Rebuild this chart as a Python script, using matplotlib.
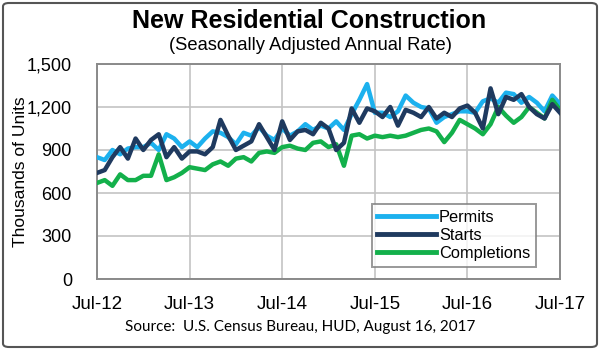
import numpy as np
import matplotlib
matplotlib.use('Agg')
import matplotlib.pyplot as plt
from matplotlib.patches import FancyBboxPatch

# ── Data (thousands of units, SAAR), monthly Jul-12 .. Jul-17 ──
permits = [850, 830, 900, 870, 910, 920,
           920, 950, 900, 1010, 980, 920, 960, 920, 980, 1030, 1020, 990,
           940, 1020, 1000, 1060, 1000, 970, 1050, 1000, 1030, 1080, 1040, 1070,
           1050, 1100, 1040, 1150, 1250, 1360, 1160, 1160, 1130, 1170, 1280, 1230,
           1200, 1190, 1090, 1130, 1150, 1170, 1170, 1160, 1240, 1260, 1230, 1300,
           1290, 1230, 1270, 1230, 1170, 1280, 1220]
starts = [740, 760, 850, 920, 840, 980,
          900, 970, 1010, 850, 920, 840, 890, 890, 870, 920, 1110, 1000,
          900, 930, 960, 1080, 990, 900, 1100, 970, 1030, 1040, 1010, 1090,
          1050, 900, 950, 1190, 1090, 1190, 1170, 1130, 1200, 1070, 1180, 1160,
          1130, 1200, 1120, 1160, 1130, 1190, 1210, 1160, 1050, 1330, 1150, 1270,
          1250, 1290, 1200, 1150, 1120, 1220, 1160]
completions = [670, 690, 650, 730, 690, 690,
               720, 720, 870, 690, 710, 740, 780, 770, 760, 800, 820, 790,
               840, 850, 820, 880, 890, 880, 920, 930, 910, 900, 950, 960,
               920, 940, 790, 1000, 1010, 980, 1000, 990, 1000, 990, 1000, 1020,
               1040, 1050, 1030, 955, 1020, 1110, 1080, 1050, 1010, 1080, 1200, 1140,
               1090, 1130, 1200, 1160, 1120, 1250, 1180]
year_labels = ['Jul-12', 'Jul-13', 'Jul-14', 'Jul-15', 'Jul-16', 'Jul-17']
y_ticks = [0, 300, 600, 900, 1200, 1500]

COLORS = {'Permits': '#1cb1ee', 'Starts': '#1f3a5f', 'Completions': '#13b04b'}

plt.rcParams['font.family'] = ['Liberation Sans', 'DejaVu Sans']

fig = plt.figure(figsize=(6, 3.5), dpi=100)
ax = fig.add_axes([97/600, 1 - 279/350, 463/600, 215/350])

x = np.arange(len(permits))
ax.plot(x, permits, color=COLORS['Permits'], lw=3.2, label='Permits', zorder=3)
ax.plot(x, starts, color=COLORS['Starts'], lw=3.2, label='Starts', zorder=4)
ax.plot(x, completions, color=COLORS['Completions'], lw=3.2, label='Completions', zorder=3)

ax.set_xlim(0, len(permits) - 1)
ax.set_ylim(0, 1500)
ax.set_xticks(np.arange(0, len(permits), 12))
ax.set_xticklabels(year_labels, fontsize=13.5)
ax.set_yticks(y_ticks)
ax.set_yticklabels([f'{v:,}' for v in y_ticks], fontsize=13)
ax.tick_params(axis='both', length=0)
ax.tick_params(axis='x', pad=12)
ax.tick_params(axis='y', pad=18)
ax.grid(True, color='#c4c4c4', lw=1.2, zorder=0)
for s in ax.spines.values():
    s.set_color('#8a8a8a')
    s.set_linewidth(1.4)
ax.set_ylabel('Thousands of Units', fontsize=12.5)
ax.yaxis.set_label_coords(-0.15, 0.5)

leg = ax.legend(loc='lower right', bbox_to_anchor=(0.948, 0.056), fontsize=11.8,
                frameon=True, fancybox=False, handlelength=3.6, handletextpad=0.15,
                labelspacing=0.2, borderpad=0.35, borderaxespad=0)
leg.get_frame().set_edgecolor('#7f7f7f')
leg.get_frame().set_linewidth(1.4)
for line in leg.get_lines():
    line.set_linewidth(3.5)

fig.text(0.515, 1 - 21/350, 'New Residential Construction', ha='center', va='center',
         fontsize=18, fontweight='bold')
fig.text(0.518, 1 - 46/350, '(Seasonally Adjusted Annual Rate)', ha='center', va='center',
         fontsize=13.2)
fig.text(0.5, 1 - 327/350, 'Source:  U.S. Census Bureau, HUD, August 16, 2017',
         ha='center', va='center', fontsize=11, family=['Lato', 'DejaVu Sans'])

border = FancyBboxPatch((3/600, 3/350), 594/600, 344/350, boxstyle='round,pad=0,rounding_size=0.01',
                        transform=fig.transFigure, fill=False, edgecolor='#555555', lw=1.5)
fig.patches.append(border)

fig.savefig('out.png', dpi=100)
